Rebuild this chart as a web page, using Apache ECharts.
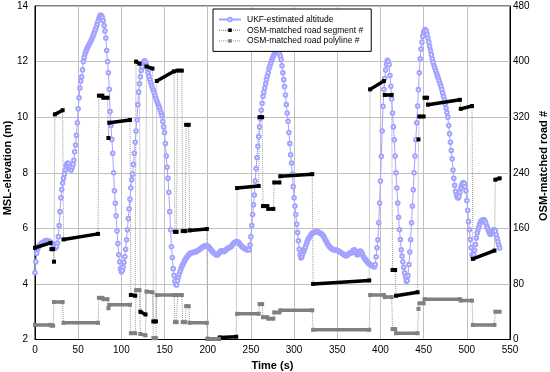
<!DOCTYPE html>
<html><head><meta charset="utf-8">
<script src="https://cdn.jsdelivr.net/npm/echarts@6/dist/echarts.min.js"></script>
<style>html,body{margin:0;padding:0;background:#fff}#c{width:550px;height:372px}</style>
</head><body><div id="c"></div>
<script>
// UKF-estimated altitude (m), one sample per second starting at t = 0 s
const altitude = [
4.40,4.80,5.10,5.25,5.33,5.38,5.42,5.45,5.47,5.49,
5.51,5.53,5.55,5.56,5.56,5.55,5.54,5.52,5.50,5.47,
5.44,5.41,5.35,5.30,5.29,5.35,5.47,5.70,6.10,6.60,
7.10,7.40,7.63,7.80,7.95,8.10,8.25,8.32,8.35,8.33,
8.22,8.12,8.10,8.20,8.30,8.45,8.75,9.00,9.35,9.80,
10.30,10.70,11.05,11.30,11.45,11.70,12.00,12.15,12.28,12.37,
12.45,12.52,12.58,12.64,12.70,12.76,12.83,12.90,12.98,13.07,
13.15,13.25,13.35,13.45,13.55,13.63,13.67,13.65,13.58,13.48,
13.30,13.10,12.85,12.40,12.00,11.60,11.00,10.20,9.70,9.20,
8.70,8.00,7.35,6.90,6.45,5.90,5.45,5.05,4.80,4.55,
4.44,4.48,4.60,4.78,4.98,5.25,5.59,5.95,6.35,6.70,
7.05,7.45,7.75,7.95,8.30,8.70,9.10,9.50,9.90,10.45,
10.90,11.20,11.45,11.68,11.82,11.95,12.00,12.03,11.98,11.88,
11.75,11.60,11.47,11.35,11.25,11.15,11.05,10.97,10.88,10.78,
10.68,10.58,10.50,10.42,10.35,10.25,10.15,10.05,9.85,9.65,
9.45,9.05,8.60,8.20,7.80,7.30,6.60,5.95,5.34,4.95,
4.55,4.30,4.10,3.98,3.96,4.12,4.25,4.35,4.45,4.55,
4.63,4.68,4.75,4.82,4.88,4.93,4.97,5.01,5.05,5.08,
5.10,5.12,5.13,5.13,5.14,5.15,5.16,5.17,5.19,5.21,
5.23,5.25,5.27,5.30,5.32,5.34,5.36,5.37,5.38,5.38,
5.36,5.34,5.30,5.26,5.22,5.18,5.14,5.11,5.09,5.07,
5.05,5.04,5.06,5.10,5.15,5.18,5.19,5.18,5.17,5.17,
5.19,5.22,5.25,5.27,5.29,5.31,5.33,5.34,5.38,5.42,
5.46,5.49,5.51,5.52,5.52,5.51,5.48,5.44,5.40,5.36,
5.33,5.31,5.29,5.27,5.25,5.24,5.23,5.23,5.23,5.40,
5.70,6.10,6.50,6.85,7.20,7.70,8.15,8.55,8.95,9.30,
9.65,9.95,10.25,10.50,10.75,10.90,11.05,11.20,11.35,11.47,
11.60,11.75,11.85,11.95,12.05,12.12,12.20,12.26,12.32,12.37,
12.39,12.40,12.37,12.30,12.20,12.07,11.85,11.60,11.35,11.10,
10.80,10.45,10.15,9.85,9.45,9.05,8.65,8.35,7.95,7.50,
7.10,6.80,6.50,6.15,5.85,5.55,5.25,5.05,4.93,4.98,
5.08,5.17,5.24,5.32,5.42,5.51,5.59,5.64,5.68,5.74,
5.79,5.82,5.84,5.86,5.87,5.88,5.88,5.88,5.87,5.85,
5.83,5.81,5.79,5.77,5.72,5.66,5.60,5.54,5.48,5.43,
5.38,5.34,5.31,5.28,5.26,5.24,5.23,5.23,5.22,5.21,
5.20,5.19,5.17,5.15,5.13,5.11,5.09,5.07,5.05,5.03,
5.01,5.02,5.04,5.07,5.10,5.12,5.11,5.13,5.18,5.22,
5.23,5.18,5.10,5.05,5.06,5.12,5.17,5.18,5.15,5.08,
5.00,4.95,4.90,4.86,4.82,4.78,4.75,4.72,4.70,4.68,
4.66,4.65,4.63,4.62,4.70,4.98,5.30,5.59,6.20,6.91,
7.70,8.59,9.50,10.39,11.00,11.40,11.70,11.90,12.05,12.00,
11.89,11.50,11.11,10.65,10.15,9.65,9.19,8.60,8.00,7.45,
6.91,6.40,5.95,5.60,5.23,5.00,4.80,4.60,4.40,4.26,
4.10,4.12,4.30,4.70,5.15,5.59,6.20,6.80,7.39,8.00,
8.60,9.19,9.80,10.40,10.99,11.60,12.10,12.45,12.70,12.91,
13.05,13.12,13.15,13.10,12.98,12.85,12.70,12.55,12.40,12.25,
12.10,11.97,11.86,11.77,11.67,11.57,11.48,11.40,11.30,11.20,
11.11,11.00,10.88,10.75,10.63,10.48,10.33,10.17,10.00,9.70,
9.40,9.10,8.80,8.50,8.10,7.80,7.55,7.33,7.20,7.12,
7.09,7.15,7.30,7.45,7.55,7.62,7.65,7.62,7.50,7.35,
7.00,6.65,6.25,5.95,5.60,5.30,5.05,4.98,5.05,5.20,
5.42,5.65,5.83,5.95,6.06,6.16,6.24,6.28,6.30,6.31,
6.31,6.26,6.18,6.08,6.01,5.92,5.84,5.79,5.80,5.86,
5.92,5.95,5.95,5.90,5.78,5.65,5.52,5.40,5.29
];

// OSM-matched road segment # runs: [t start, road # at start, t end, road # at end]
const segmentRuns = [
[0,132,18,139],[19,130,21,130],[22,112,22,112],[23,324,32,330],[33,144,73,152],
[74,351,78,351],[79,348,84,348],[85,290,85,290],[86,312,110,316],[111,64,116,63],
[117,400,121,397],[122,40,128,36],[129,393,136,390],[137,26,140,26],[141,372,161,386],
[162,155,164,155],[165,387,170,387],[171,156,174,156],[175,309,178,309],[179,157,199,159],
[200,1,213,1],[214,3,233,4],[234,218,259,221],[260,320,263,320],[264,192,269,192],
[270,188,276,188],[277,226,283,226],[284,235,321,238],[322,80,387,85],[388,360,404,372],
[405,352,413,352],[414,100,417,100],[418,63,443,68],[444,288,444,288],[445,321,450,321],
[451,348,454,348],[455,338,492,345],[493,332,506,336],[507,116,532,128],[533,230,538,232]
];

// OSM-matched road polyline # runs: [t start, road # at start, t end, road # at end]
const polylineRuns = [
[0,21,18,21],[19,20,21,20],[22,54,32,54],[33,24,73,24],[74,60,78,60],
[79,58,84,58],[85,45,85,45],[86,50,110,50],[111,9,116,9],[117,71,121,71],
[122,8,128,6],[129,69,136,68],[137,2,140,2],[141,64,161,64],[162,25,164,25],
[165,64,170,64],[171,25,174,25],[175,48,178,48],[179,24,199,24],[200,1,213,1],
[234,37,259,37],[260,51,263,51],[264,32,269,32],[270,30,276,30],[277,39,283,39],
[284,42,321,42],[322,14,387,14],[388,64,404,64],[405,61,413,61],[414,15,417,15],
[418,9,443,9],[444,44,444,44],[445,52,450,52],[451,58,492,58],[493,56,506,56],
[507,21,532,21],[533,40,538,40]
];

const timeAxis = {min: 0, max: 550, interval: 50};
const elevAxis = {min: 2, max: 14, interval: 2};
const roadAxis = {min: 0, max: 480, interval: 80};

const FONT = 'Liberation Sans, Arial, sans-serif';

function runsData(runs){
  const d = [];
  runs.forEach(r => {
    d.push([r[0], r[1]]);
    if (r[2] !== r[0]) d.push([r[2], r[3]]);
    d.push('-');
  });
  return d;
}
function connectorData(runs){
  const d = [];
  for (let i = 1; i < runs.length; i++) {
    const p = runs[i-1], n = runs[i];
    if (n[0] - p[2] <= 2) {
      d.push([p[2], p[3]]);
      d.push([n[0], n[1]]);
      d.push('-');
    }
  }
  return d;
}

const chart = echarts.init(document.getElementById('c'), null, {renderer: 'canvas'});
const names = ['UKF-estimated altitude', 'OSM-matched road segment #', 'OSM-matched road polyline #'];
chart.setOption({
  animation: false,
  backgroundColor: '#fff',
  textStyle: {fontFamily: FONT},
  grid: {left: 35, right: 40, top: 6, bottom: 32.5, containLabel: false, outerBoundsMode: 'none',
         show: true, borderColor: '#000', borderWidth: 1, backgroundColor: '#fff'},
  graphic: [
    {type: 'text', x: 8, y: 168, rotation: Math.PI / 2, z: 10,
     style: {text: 'MSL-elevation (m)', font: 'bold 11px ' + FONT, fill: '#000', align: 'center', verticalAlign: 'middle'}},
    {type: 'text', x: 544, y: 166, rotation: Math.PI / 2, z: 10,
     style: {text: 'OSM-matched road #', font: 'bold 11px ' + FONT, fill: '#000', align: 'center', verticalAlign: 'middle'}}
  ],
  legend: {
    orient: 'vertical', left: 213, top: 9,
    backgroundColor: '#fff', borderColor: '#000', borderWidth: 1,
    padding: [6, 8, 6, 5],
    itemWidth: 22, itemHeight: 4.5, itemGap: 1.7,
    textStyle: {fontSize: 8.5, fontFamily: FONT, color: '#000', lineHeight: 8, padding: [0, 0, 0, 1]},
    selectedMode: false,
    data: [
      {name: names[0]},
      {name: names[1], lineStyle: {type: 'dotted', color: '#777', width: 1}},
      {name: names[2], lineStyle: {type: 'dotted', color: '#999', width: 1}}
    ]
  },
  xAxis: {
    type: 'value', min: timeAxis.min, max: timeAxis.max, interval: timeAxis.interval,
    axisLine: {lineStyle: {color: '#000', width: 1}},
    axisTick: {show: false},
    axisLabel: {color: '#000', fontSize: 10, fontFamily: FONT, margin: 6},
    splitLine: {show: true, lineStyle: {color: '#c0c0c0', width: 1}},
    name: 'Time (s)', nameLocation: 'middle', nameGap: 19,
    nameTextStyle: {fontSize: 11, fontWeight: 'bold', color: '#000', fontFamily: FONT}
  },
  yAxis: [{
    type: 'value', min: elevAxis.min, max: elevAxis.max, interval: elevAxis.interval,
    axisLine: {show: true, lineStyle: {color: '#000', width: 1}},
    axisTick: {show: false},
    axisLabel: {color: '#000', fontSize: 10, fontFamily: FONT, margin: 7},
    splitLine: {show: true, lineStyle: {color: '#c0c0c0', width: 1}}
  }, {
    type: 'value', position: 'right', min: roadAxis.min, max: roadAxis.max, interval: roadAxis.interval,
    axisLine: {show: true, lineStyle: {color: '#000', width: 1}},
    axisTick: {show: false},
    axisLabel: {color: '#000', fontSize: 10, fontFamily: FONT, margin: 3},
    splitLine: {show: false}
  }],
  series: [
    {
      name: 'segConnectors', type: 'line', yAxisIndex: 1, z: 1,
      data: connectorData(segmentRuns), showSymbol: false, silent: true,
      lineStyle: {type: 'dotted', color: '#9a9a9a', width: 1}
    },
    {
      name: 'polyConnectors', type: 'line', yAxisIndex: 1, z: 1,
      data: connectorData(polylineRuns), showSymbol: false, silent: true,
      lineStyle: {type: 'dotted', color: '#9a9a9a', width: 1}
    },
    {
      name: names[0], type: 'line', z: 2,
      data: altitude.map((v, i) => [i, v]),
      symbol: 'emptyCircle', symbolSize: 3.6, showAllSymbol: true,
      lineStyle: {color: '#a3a3ff', width: 1},
      itemStyle: {color: '#a3a3ff', borderColor: '#a3a3ff', borderWidth: 0.8}
    },
    {
      name: names[1], type: 'line', yAxisIndex: 1, z: 3,
      data: runsData(segmentRuns), connectNulls: false,
      symbol: 'rect', symbolSize: 4, showAllSymbol: true,
      lineStyle: {color: '#000', width: 3.5},
      itemStyle: {color: '#000'}
    },
    {
      name: names[2], type: 'line', yAxisIndex: 1, z: 4,
      data: runsData(polylineRuns), connectNulls: false,
      symbol: 'rect', symbolSize: 4, showAllSymbol: true,
      lineStyle: {color: '#808080', width: 3.5},
      itemStyle: {color: '#808080'}
    }
  ]
});
</script></body></html>
